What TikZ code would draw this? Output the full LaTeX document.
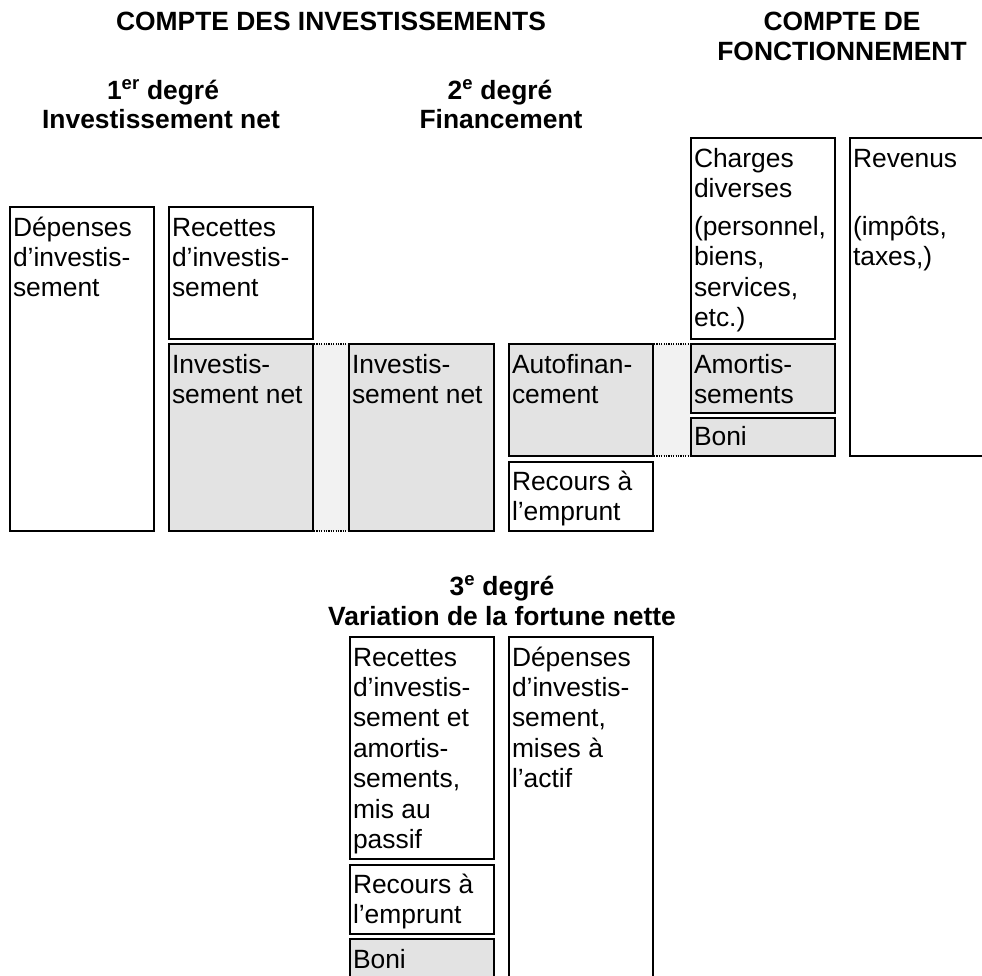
\documentclass[tikz,border=0pt]{standalone}
\usepackage{fontspec}
\setmainfont{Liberation Sans}
\definecolor{shadefill}{RGB}{227,227,227}
\definecolor{gapfill}{RGB}{242,242,242}
\newcommand{\bodysize}{\fontsize{26.4}{30.4}\selectfont}
\newcommand{\lns}[1]{\parbox[t]{200pt}{\raggedright #1}}
\begin{document}
\begin{tikzpicture}[x=1pt,y=-1pt,
  boxw/.style={draw=black, line width=1.8pt, fill=white, inner sep=0pt, outer sep=0pt, anchor=north west},
  boxg/.style={boxw, fill=shadefill},
  txt/.style={anchor=base west, inner sep=0pt, outer sep=0pt, font=\bodysize},
  head/.style={anchor=base, inner sep=0pt, font=\bfseries\fontsize{26.4}{30}\selectfont},
  dotline/.style={line width=1.5pt, dash pattern=on 1.2pt off 1.2pt},
  gap/.style={fill=gapfill}]
\useasboundingbox (0,0) rectangle (982,975);
\clip (0,0) rectangle (982,975);

% headers
\node[head] (hci) at (331,30) {COMPTE DES INVESTISSEMENTS};
\node[head] (hcfa) at (842,30) {COMPTE DE};
\node[head] (hcfb) at (842,60) {FONCTIONNEMENT};
\node[head] (h1a) at (163,99) {1\textsuperscript{er} degré};
\node[head] (h1b) at (161,128) {Investissement net};
\node[head] (h2a) at (500,99) {2\textsuperscript{e} degré};
\node[head] (h2b) at (501,128) {Financement};
\node[head] (h3a) at (502,595) {3\textsuperscript{e} degré};
\node[head] (h3b) at (502,625) {Variation de la fortune nette};

% boxes
\node[boxw, minimum width=144pt, minimum height=324pt] (depI) at (10,207) {};
\node[boxw, minimum width=144pt, minimum height=132pt] (recI) at (169,207) {};
\node[boxg, minimum width=144pt, minimum height=187pt] (inv1) at (169,344) {};
\node[boxg, minimum width=145pt, minimum height=187pt] (inv2) at (349,344) {};
\node[boxg, minimum width=144pt, minimum height=112pt] (autof) at (509,344) {};
\node[boxw, minimum width=144pt, minimum height=69pt] (recours) at (509,462) {};
\node[boxw, minimum width=144pt, minimum height=201pt] (charges) at (691,138) {};
\node[boxg, minimum width=144pt, minimum height=69pt] (amort) at (691,344) {};
\node[boxg, minimum width=144pt, minimum height=38pt] (boni) at (691,418) {};
\node[boxw, minimum width=160pt, minimum height=318pt] (revenus) at (850,138) {};
\node[boxw, minimum width=144pt, minimum height=222pt] (rec3) at (350,637) {};
\node[boxw, minimum width=144pt, minimum height=69pt] (recours3) at (350,865) {};
\node[boxg, minimum width=144pt, minimum height=60pt] (boni3) at (350,939) {};
\node[boxw, minimum width=144pt, minimum height=360pt] (dep3) at (509,637) {};

% connecting gaps
\fill[gap] ([xshift=0.9pt]inv1.north east) rectangle ([xshift=-0.9pt]inv2.south west);
\draw[dotline] ([xshift=0.9pt]inv1.north east) -- ([xshift=-0.9pt]inv2.north west);
\draw[dotline] ([xshift=0.9pt]inv1.south east) -- ([xshift=-0.9pt]inv2.south west);
\fill[gap] ([xshift=0.9pt]autof.north east) rectangle ([xshift=-0.9pt]boni.south west);
\draw[dotline] ([xshift=0.9pt]autof.north east) -- ([xshift=-0.9pt]amort.north west);
\draw[dotline] ([xshift=0.9pt]autof.south east) -- ([xshift=-0.9pt]boni.south west);

% texts
\node[txt] (tdepI) at ([xshift=3pt,yshift=-29pt]depI.north west) {\lns{Dépenses\\d’investis-\\sement}};
\node[txt] (trecI) at ([xshift=3pt,yshift=-29pt]recI.north west) {\lns{Recettes\\d’investis-\\sement}};
\node[txt] (tinv1) at ([xshift=3pt,yshift=-29pt]inv1.north west) {\lns{Investis-\\sement net}};
\node[txt] (tinv2) at ([xshift=3pt,yshift=-29pt]inv2.north west) {\lns{Investis-\\sement net}};
\node[txt] (tautof) at ([xshift=3pt,yshift=-29pt]autof.north west) {\lns{Autofinan-\\cement}};
\node[txt] (trecours) at ([xshift=3pt,yshift=-28pt]recours.north west) {\lns{Recours à\\l’emprunt}};
\node[txt] (tcharges) at ([xshift=3pt,yshift=-29pt]charges.north west) {\lns{Charges\\diverses\\[7.6pt](personnel,\\biens,\\services,\\etc.)}};
\node[txt] (tamort) at ([xshift=3pt,yshift=-29pt]amort.north west) {\lns{Amortis-\\sements}};
\node[txt] (tboni) at ([xshift=3pt,yshift=-27pt]boni.north west) {\lns{Boni}};
\node[txt] (trevenus) at ([xshift=3pt,yshift=-29pt]revenus.north west) {\lns{Revenus\\[37.6pt](impôts,\\taxes,)}};
\node[txt] (trec3) at ([xshift=3pt,yshift=-29pt]rec3.north west) {\lns{Recettes\\d’investis-\\sement et\\amortis-\\sements,\\mis au\\passif}};
\node[txt] (trecours3) at ([xshift=3pt,yshift=-28pt]recours3.north west) {\lns{Recours à\\l’emprunt}};
\node[txt] (tboni3) at ([xshift=3pt,yshift=-29pt]boni3.north west) {\lns{Boni}};
\node[txt] (tdep3) at ([xshift=3pt,yshift=-29pt]dep3.north west) {\lns{Dépenses\\d’investis-\\sement,\\mises à\\l’actif}};
\end{tikzpicture}
\end{document}
